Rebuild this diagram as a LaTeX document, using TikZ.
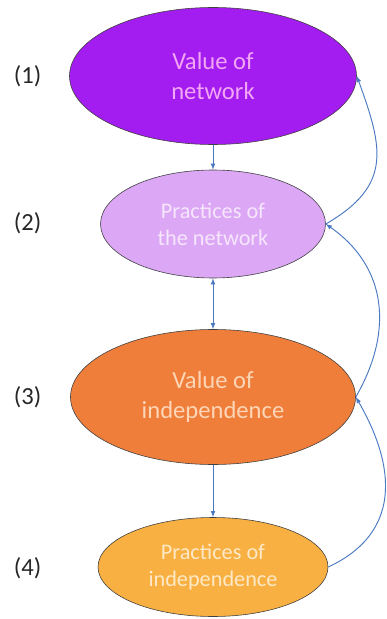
\documentclass[tikz,border=0pt]{standalone}
\usepackage{fontspec}
\setmainfont{Carlito}
\usetikzlibrary{shapes.geometric}
\definecolor{netpurple}{HTML}{A31DF0}
\definecolor{nettext}{HTML}{F3A6F4}
\definecolor{lilac}{HTML}{DCA8F6}
\definecolor{lilactext}{HTML}{F6E6FC}
\definecolor{deeporange}{HTML}{F07E3B}
\definecolor{deeptext}{HTML}{FCD6B6}
\definecolor{lightorange}{HTML}{F8B042}
\definecolor{lighttext}{HTML}{FDE9C6}
\definecolor{linkblue}{HTML}{4A78C2}
\begin{document}
\begin{tikzpicture}[>=latex,
	stage/.style={ellipse,draw=black!75,line width=0.5pt,inner sep=0pt,align=center},
	bigtext/.style={font=\fontsize{21}{26}\selectfont},
	smalltext/.style={font=\fontsize{19}{23}\selectfont},
	link/.style={draw=linkblue,line width=0.8pt}]
	\useasboundingbox (0,0) rectangle (11.58,-18.57);
	% the four stages
	\node [stage,bigtext,fill=netpurple,text=nettext,minimum width=8.61cm,minimum height=4.11cm] (valnet) at (6.39,-2.28) {Value of\\network};
	\node [stage,smalltext,fill=lilac,text=lilactext,minimum width=6.75cm,minimum height=3.24cm] (pracnet) at (6.39,-6.72) {Practices of\\the network};
	\node [stage,bigtext,fill=deeporange,text=deeptext,minimum width=8.55cm,minimum height=4.05cm] (valind) at (6.39,-11.91) {Value of\\independence};
	\node [stage,smalltext,fill=lightorange,text=lighttext,minimum width=6.9cm,minimum height=2.97cm] (pracind) at (6.39,-17.01) {Practices of\\independence};
	% numbers
	\node [font=\fontsize{21}{25}\selectfont,text=black!85] (num1) at (0.83,-2.28) {(1)};
	\node [font=\fontsize{21}{25}\selectfont,text=black!85] (num2) at (0.83,-6.69) {(2)};
	\node [font=\fontsize{21}{25}\selectfont,text=black!85] (num3) at (0.83,-11.91) {(3)};
	\node [font=\fontsize{21}{25}\selectfont,text=black!85] (num4) at (0.83,-17.04) {(4)};
	% links
	\draw [link,->] (valnet) -- (pracnet);
	\draw [link,<->] (pracnet) -- (valind);
	\draw [link,->] (valind) -- (pracind);
	\draw [link,->] (pracind.east) to[out=25,in=-60,looseness=1.2] (valind.east);
	\draw [link,->] (valind.east) to[out=60,in=-35,looseness=1.1] (pracnet.east);
	\draw [link,->] (pracnet.east) to[out=30,in=-70,looseness=1.3] (valnet.east);
\end{tikzpicture}
\end{document}
